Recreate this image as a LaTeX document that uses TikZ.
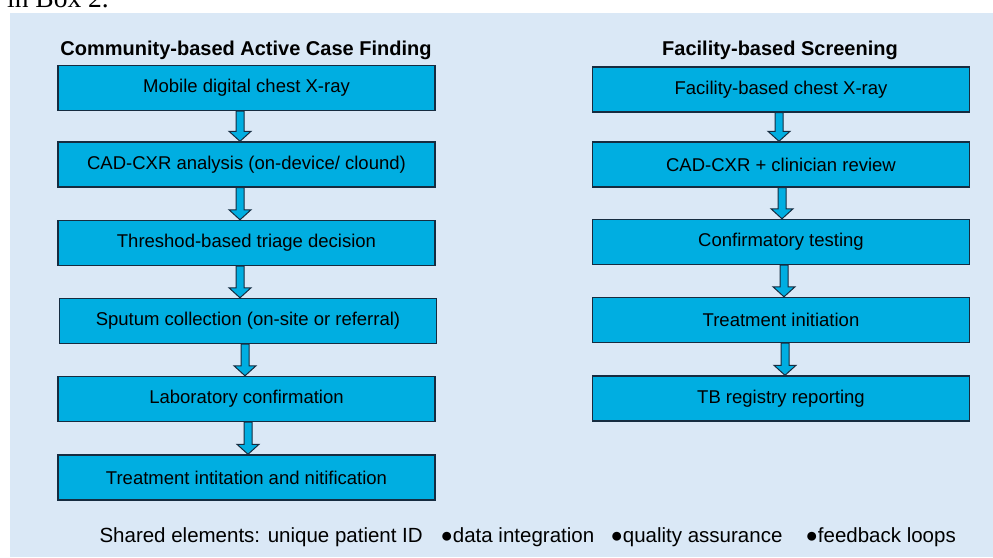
\documentclass[tikz,border=0pt]{standalone}
\usepackage{fontspec}
\setmainfont{Liberation Sans}
\newfontfamily\bodyserif{Liberation Serif}
\usetikzlibrary{calc}

\definecolor{panelblue}{RGB}{218,232,246}
\definecolor{stepblue}{RGB}{0,174,225}
\definecolor{edgenavy}{RGB}{22,44,64}

\tikzset{
  stage/.style={draw=edgenavy, line width=1.4pt, fill=stepblue, minimum width=377pt, minimum height=45pt, inner sep=0pt, font=\fontsize{18.5}{20}\selectfont},
  heading/.style={anchor=base, font=\fontsize{20}{24}\selectfont\bfseries},
  shared/.style={anchor=base west, font=\fontsize{20.5}{24}\selectfont},
  flow/.style={draw=edgenavy, line width=1pt, fill=stepblue, line join=miter}
}

\newcommand\flowarrow[3]{%
  \coordinate (tail) at ($(#1.south)+(#3,0)$);
  \coordinate (tip) at (tail |- #2.north);
  \draw[flow] ($(tail)+(-4,0)$) -- ($(tip)+(-4,-10)$) -- ++(-7,0) -- (tip)
    -- ++(11,-10) -- ++(-7,0) -- ($(tail)+(4,0)$) -- cycle;}

\begin{document}
\begin{tikzpicture}[x=1pt, y=-1pt]
\clip (0,0) rectangle (993,557);
\node[anchor=base west, inner sep=0pt, font=\bodyserif\fontsize{27.5}{30}\selectfont] (boxref) at (7,7) {in Box 2.};
\fill[panelblue] (10,13) rectangle (993,557);

\node[heading] (acf) at (246,55) {Community-based Active Case Finding};
\node[heading] (fbs) at (780,55) {Facility-based Screening};

\node[stage] (cxr) at (246.5,88) {Mobile digital chest X-ray};
\node[stage] (cad) at (246.5,164.5) {CAD-CXR analysis (on-device/ clound)};
\node[stage] (triage) at (246.5,243) {Threshod-based triage decision};
\node[stage] (sputum) at (248,321) {Sputum collection (on-site or referral)};
\node[stage] (lab) at (246.5,399) {Laboratory confirmation};
\node[stage] (notify) at (246.5,477.5) {Treatment intitation and nitification};

\node[stage] (fcxr) at (781,89.5) {Facility-based chest X-ray};
\node[stage] (review) at (781,164.5) {CAD-CXR + clinician review};
\node[stage] (confirm) at (781,242) {Confirmatory testing};
\node[stage] (treat) at (781,320) {Treatment initiation};
\node[stage] (registry) at (781,398.5) {TB registry reporting};

\flowarrow{cxr}{cad}{-6.5}
\flowarrow{cad}{triage}{-6.5}
\flowarrow{triage}{sputum}{-6.5}
\flowarrow{sputum}{lab}{-3}
\flowarrow{lab}{notify}{1.5}
\flowarrow{fcxr}{review}{-2}
\flowarrow{review}{confirm}{1}
\flowarrow{confirm}{treat}{3}
\flowarrow{treat}{registry}{4}

\node[shared] (ids) at (96,542) {Shared elements: unique patient ID};
\node[shared] (data) at (437,542) {●data integration};
\node[shared] (quality) at (607,542) {●quality assurance};
\node[shared] (loops) at (802,542) {●feedback loops};
\end{tikzpicture}
\end{document}
